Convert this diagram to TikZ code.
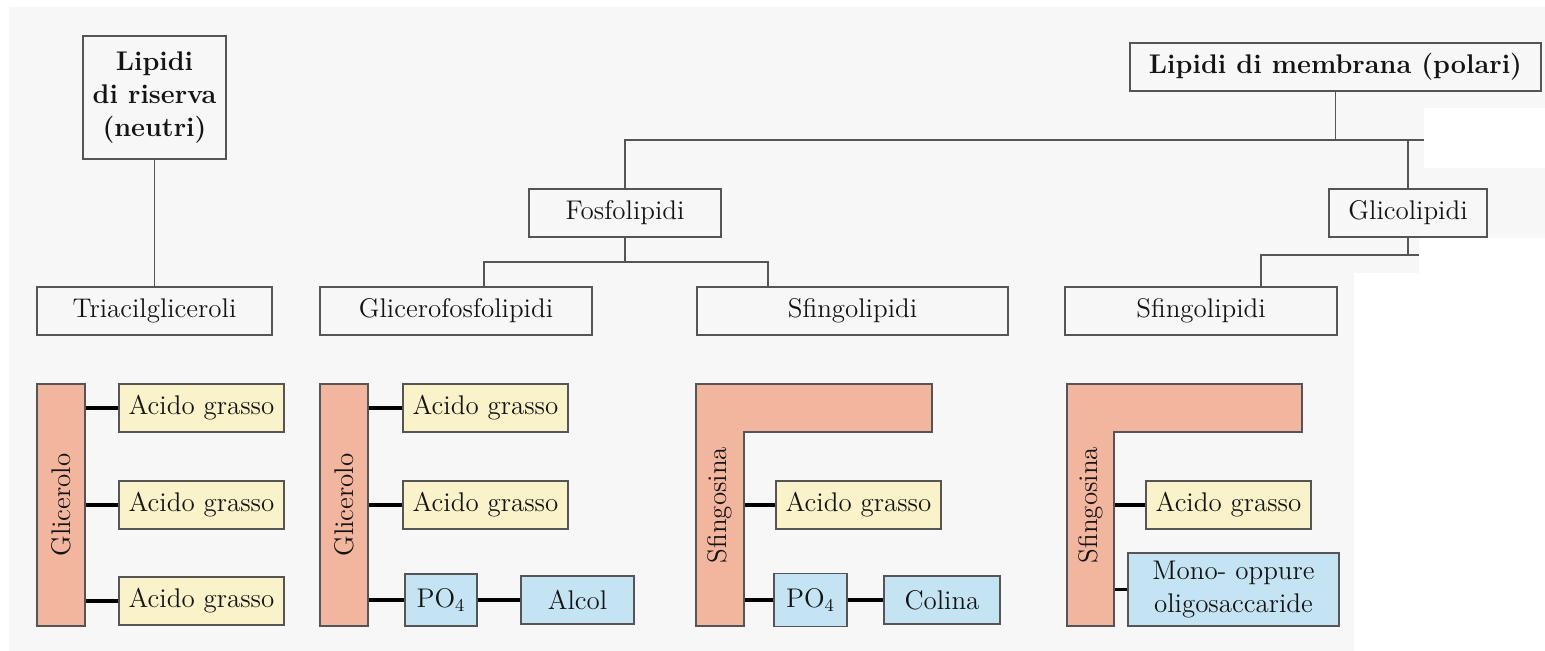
\documentclass[tikz,border=0pt]{standalone}
\usepackage{xcolor}
\usepackage{tikz}

\definecolor{bggray}{HTML}{F7F7F7}
\definecolor{linegray}{HTML}{555555}
\definecolor{salmon}{HTML}{F2B59D}
\definecolor{cream}{HTML}{FAF2C8}
\definecolor{lightblue}{HTML}{C5E4F3}

\tikzset{
  box/.style={draw=linegray, line width=0.7pt, inner sep=0pt, minimum height=24pt,
    text=black!92, font=\fontsize{13.5}{16.5}\selectfont, align=center},
  tree/.style={draw=linegray, line width=0.8pt},
  bond/.style={draw=black, line width=1.8pt},
  acid/.style={box, fill=cream, minimum width=82.5pt},
  polar/.style={box, fill=lightblue},
  bar/.style={box, fill=salmon, minimum width=24pt, minimum height=121pt},
}

\begin{document}
\begin{tikzpicture}[x=0.5pt, y=-0.5pt]
  \useasboundingbox (0,0) rectangle (1545,651);
  \fill[bggray] (9,7) -- (1545,7) -- (1545,108) -- (1424,108) -- (1424,168)
    -- (1545,168) -- (1545,238) -- (1419,238) -- (1419,273) -- (1354,273)
    -- (1354,651) -- (9,651) -- cycle;

  % classification tree
  \node[box, minimum width=71.5pt, minimum height=61.5pt, font=\fontsize{13.5}{16.5}\selectfont\bfseries] (riserva) at (154.5,97.5) {Lipidi\\di riserva\\(neutri)};
  \node[box, minimum width=205.5pt, font=\fontsize{13.5}{16.5}\selectfont\bfseries] (membrana) at (1335.5,67) {Lipidi di membrana (polari)};
  \node[box, minimum width=96pt] (fosfo) at (625,213) {Fosfolipidi};
  \node[box, minimum width=79pt] (glico) at (1408,213) {Glicolipidi};
  \node[box, minimum width=117.5pt] (triacil) at (154.5,311) {Triacilgliceroli};
  \node[box, minimum width=136pt] (glicero) at (456,311) {Glicerofosfolipidi};
  \node[box, minimum width=155.5pt] (sfingoA) at (852.5,311) {Sfingolipidi};
  \node[box, minimum width=136pt] (sfingoB) at (1201,311) {Sfingolipidi};

  \coordinate (mbus) at (1424,140);
  \coordinate (fbus) at (625,262);
  \coordinate (gbus) at (1419,255);

  \draw[tree] (riserva.south) -- (triacil.north);
  \draw[tree] (fosfo.north) |- (mbus);
  \draw[tree] (membrana.south) -- (membrana.south |- mbus);
  \draw[tree] (glico.north) -- (glico.north |- mbus);
  \draw[tree] (fosfo.south) -- (fbus);
  \draw[tree] ([xshift=14pt]glicero.north) |- (fbus) -| ([xshift=-42.25pt]sfingoA.north);
  \draw[tree] (glico.south) -- (glico.south |- gbus);
  \draw[tree] ([xshift=30pt]sfingoB.north) |- (gbus);

  % triacilglicerolo
  \node[bar] (glic1) at (61,505) {\rotatebox{90}{Glicerolo}};
  \node[acid] (acid11) at (201.5,408) {Acido grasso};
  \node[acid] (acid12) at (201.5,505) {Acido grasso};
  \node[acid] (acid13) at (201.5,601) {Acido grasso};
  \draw[bond] (acid11.west) -- (acid11.west -| glic1.east);
  \draw[bond] (acid12.west) -- (acid12.west -| glic1.east);
  \draw[bond] (acid13.west) -- (acid13.west -| glic1.east);

  % glicerofosfolipide
  \node[bar] (glic2) at (344,505) {\rotatebox{90}{Glicerolo}};
  \node[acid] (acid21) at (485.5,408) {Acido grasso};
  \node[acid] (acid22) at (485.5,505) {Acido grasso};
  \node[polar, minimum width=36pt, minimum height=26pt] (po4a) at (441,600) {PO$_4$};
  \node[polar, minimum width=56.5pt] (alcol) at (577.5,600) {Alcol};
  \draw[bond] (acid21.west) -- (acid21.west -| glic2.east);
  \draw[bond] (acid22.west) -- (acid22.west -| glic2.east);
  \draw[bond] (po4a.west) -- (po4a.west -| glic2.east);
  \draw[bond] (po4a.east) -- (alcol.west);

  % sfingomielina
  \filldraw[fill=salmon, draw=linegray, line width=0.7pt] (696,384) -- (932,384) -- (932,432)
    -- (744,432) -- (744,626) -- (696,626) -- cycle;
  \node[box, draw=none, minimum width=24pt, minimum height=121pt] (sfing1) at (720,505) {\rotatebox{90}{Sfingosina}};
  \node[acid] (acid31) at (858.5,505) {Acido grasso};
  \node[polar, minimum width=36.5pt, minimum height=26.5pt] (po4b) at (810.5,600) {PO$_4$};
  \node[polar, minimum width=58pt] (colina) at (942,600) {Colina};
  \draw[bond] (acid31.west) -- (acid31.west -| sfing1.east);
  \draw[bond] (po4b.west) -- (po4b.west -| sfing1.east);
  \draw[bond] (po4b.east) -- (colina.west);

  % glicolipide
  \filldraw[fill=salmon, draw=linegray, line width=0.7pt] (1067,384) -- (1302,384) -- (1302,432)
    -- (1114,432) -- (1114,626) -- (1067,626) -- cycle;
  \node[box, draw=none, minimum width=23.5pt, minimum height=121pt] (sfing2) at (1090.5,505) {\rotatebox{90}{Sfingosina}};
  \node[acid] (acid41) at (1228.5,505) {Acido grasso};
  \node[polar, minimum width=105.5pt, minimum height=36.5pt] (mono) at (1233.5,589.5) {Mono- oppure\\oligosaccaride};
  \draw[bond] (acid41.west) -- (acid41.west -| sfing2.east);
  \draw[bond] (mono.west) -- (mono.west -| sfing2.east);
\end{tikzpicture}
\end{document}
